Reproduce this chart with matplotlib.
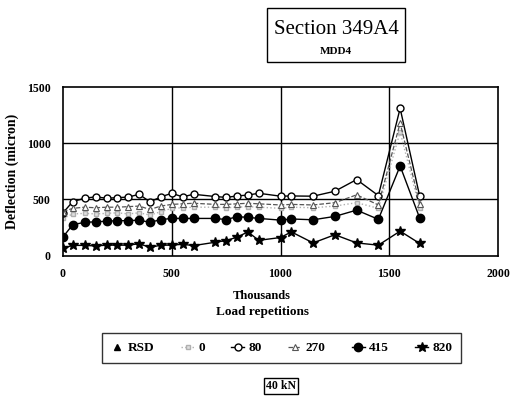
import matplotlib
matplotlib.use("Agg")
import matplotlib.pyplot as plt
from matplotlib.patches import Rectangle

plt.rcParams['font.family'] = ['Liberation Serif', 'DejaVu Serif']

# ---- data ----
load_k = [0, 45, 100, 150, 200, 250, 300, 350, 400, 450, 500, 550, 600,
          700, 750, 800, 850, 900, 1000, 1050, 1150, 1250, 1350, 1450, 1550, 1640]

defl_0 = [330, 370, 375, 370, 375, 380, 370, 380, 360, 390, 420, 425, 430,
          430, 425, 430, 435, 430, 420, 430, 425, 440, 470, 420, 1100, 420]
defl_80 = [380, 480, 510, 522, 510, 515, 520, 545, 477, 522, 554, 522, 545,
           525, 517, 530, 538, 554, 528, 530, 528, 572, 676, 533, 1310, 528]
defl_270 = [390, 420, 430, 425, 430, 430, 435, 440, 410, 440, 455, 460, 465,
            455, 455, 460, 465, 460, 450, 455, 450, 470, 540, 450, 1180, 460]
defl_415 = [165, 275, 295, 300, 305, 310, 310, 315, 295, 320, 330, 330, 330,
            330, 320, 345, 340, 330, 315, 325, 318, 348, 404, 322, 797, 333]
defl_820 = [65, 90, 90, 85, 92, 92, 92, 105, 72, 92, 92, 100, 88,
            118, 133, 163, 210, 135, 160, 210, 112, 185, 112, 92, 217, 107]
defl_rsd = []

x_ticks = [0, 500, 1000, 1500, 2000]
y_ticks = [0, 500, 1000, 1500]

fig = plt.figure(figsize=(5.17, 4.16), dpi=100)
ax = fig.add_axes([63/517, 1-255.5/416, (498-63)/517, (255.5-87)/416])

ax.plot(defl_rsd, defl_rsd, color='black', marker='^', ms=5, lw=0, label='RSD')
ax.plot(load_k, defl_0, color='#b0b0b0', ls=':', lw=1.0, marker='s', ms=3,
        mfc='#e0e0e0', mec='#b0b0b0', label='0')
ax.plot(load_k, defl_80, color='black', lw=1.0, marker='o', ms=5,
        mfc='white', mec='black', mew=1.0, label='80')
ax.plot(load_k, defl_270, color='#555555', ls='--', lw=0.9, marker='^', ms=4,
        mfc='white', mec='#555555', mew=0.8, label='270')
ax.plot(load_k, defl_415, color='black', lw=1.0, marker='o', ms=6,
        mfc='black', mec='black', label='415')
ax.plot(load_k, defl_820, color='black', lw=1.0, marker='*', ms=7,
        mfc='black', mec='black', label='820')

ax.set_xlim(0, 2000)
ax.set_ylim(0, 1500)
ax.set_xticks(x_ticks)
ax.set_yticks(y_ticks)
ax.set_xticklabels([str(t) for t in x_ticks], fontweight='bold', fontsize=8.5)
ax.set_yticklabels([str(t) for t in y_ticks], fontweight='bold', fontsize=8.5)
ax.tick_params(axis='x', length=0, pad=9)
ax.tick_params(axis='y', length=0, pad=9)
for v in [500, 1000, 1500]:
    ax.axvline(v, color='black', lw=1.0, zorder=0)
for v in [500, 1000]:
    ax.axhline(v, color='black', lw=1.0, zorder=0)
for s in ax.spines.values():
    s.set_linewidth(1.2)
    s.set_color('black')

ax.set_ylabel('Deflection (micron)', fontweight='bold', fontsize=10)
ax.yaxis.set_label_coords(-0.1, 0.5)

fig.text(262/517, 1-296/416, 'Thousands', ha='center', va='center',
         fontweight='bold', fontsize=9)
fig.text(262/517, 1-312/416, 'Load repetitions', ha='center', va='center',
         fontweight='bold', fontsize=9.5)

# title box
fig.patches.append(Rectangle((267/517, 1-62/416), (405-267)/517, (62-8)/416,
                             transform=fig.transFigure, fill=False,
                             edgecolor='black', lw=1.0))
fig.text(336/517, 1-29/416, 'Section 349A4', ha='center', va='center',
         fontsize=15)
fig.text(336/517, 1-51/416, 'MDD4', ha='center', va='center',
         fontweight='bold', fontsize=8)

leg = ax.legend(loc='center', bbox_to_anchor=(281.5/517, 1-348/416),
                bbox_transform=fig.transFigure, ncol=6, frameon=True,
                fancybox=False, edgecolor='black',
                prop={'weight': 'bold', 'size': 9.5},
                handlelength=1.0, handletextpad=0.3, columnspacing=2.0,
                borderpad=0.7)
leg.get_frame().set_linewidth(1.0)

fig.text(281/517, 1-386/416, '40 kN', ha='center', va='center', fontsize=8.5,
         fontweight='bold',
         bbox=dict(boxstyle='square,pad=0.2', fc='white', ec='black', lw=1.0))

fig.savefig('out.png', dpi=100)
